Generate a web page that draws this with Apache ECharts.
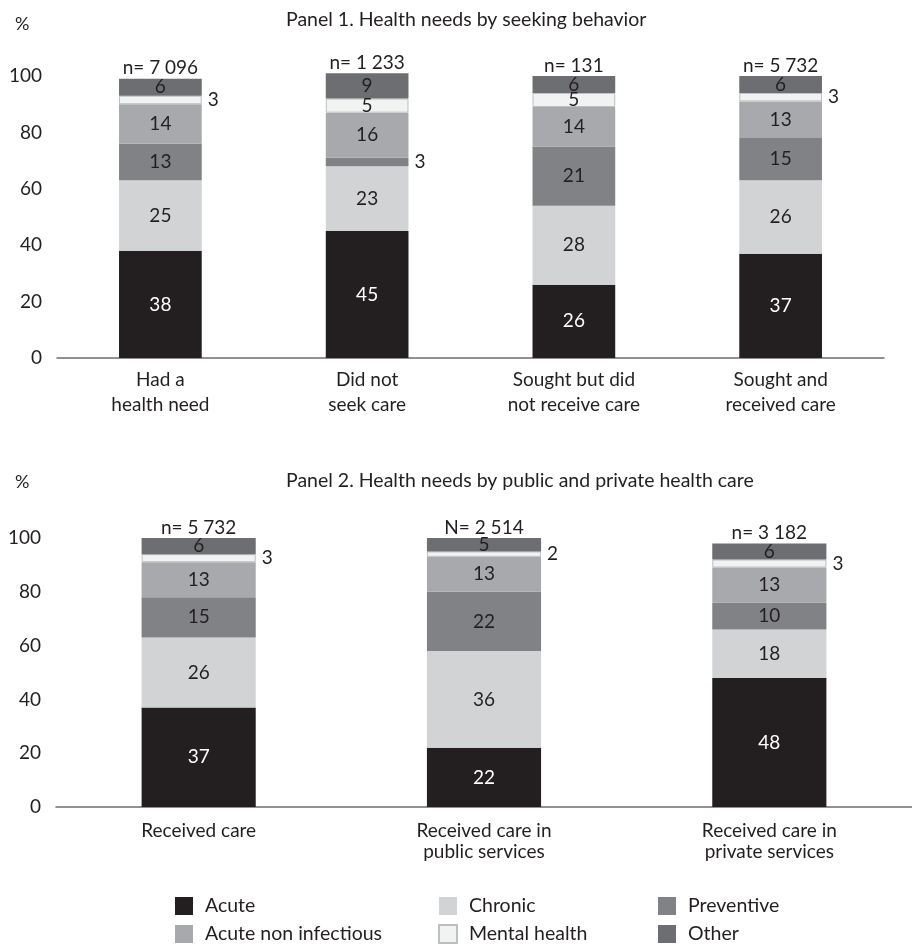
<!DOCTYPE html>
<html><head><meta charset="utf-8">
<script src="https://cdn.jsdelivr.net/npm/echarts@6/dist/echarts.min.js"></script>
<style>html,body{margin:0;padding:0;background:#fff}#c{width:912px;height:946px}</style>
</head><body><div id="c"></div>
<script>
// ---- Data ----
const seriesNames = ['Acute','Chronic','Preventive','Acute non infectious','Mental health','Other'];
const yTicks = [0,20,40,60,80,100];

const cats1 = ['Had a\nhealth need','Did not\nseek care','Sought but did\nnot receive care','Sought and\nreceived care'];
const n1 = ['n= 7 096','n= 1 233','n= 131','n= 5 732'];
const acute1 = [38,45,26,37];
const chronic1 = [25,23,28,26];
const preventive1 = [13,3,21,15];
const acuteNonInf1 = [14,16,14,13];
const mental1 = [3,5,5,3];
const other1 = [6,9,6,6];

const cats2 = ['Received care','Received care in\npublic services','Received care in\nprivate services'];
const n2 = ['n= 5 732','N= 2 514','n= 3 182'];
const acute2 = [37,22,48];
const chronic2 = [26,36,18];
const preventive2 = [15,22,10];
const acuteNonInf2 = [13,13,13];
const mental2 = [3,2,3];
const other2 = [6,5,6];

const title1 = 'Panel 1. Health needs by seeking behavior';
const title2 = 'Panel 2. Health needs by public and private health care';

// ---- Styles ----
const FONT = 'Lato';
const TXT = '#231f20';
const colors = ['#231f20','#d1d3d4','#808285','#a7a9ac','#f1f2f2','#6d6e71'];
const FS = 19;

function buildSeries(idx, arrays, nArr, stack) {
  const out = arrays.map((arr, k) => ({
    name: seriesNames[k],
    type: 'bar',
    stack: stack,
    clip: false,
    xAxisIndex: idx, yAxisIndex: idx,
    barWidth: '40%',
    itemStyle: k === 4 ? {color: colors[k], borderColor: '#bcbec0', borderWidth: 1} : {color: colors[k]},
    label: {show: true, position: 'inside', fontFamily: FONT, fontSize: FS, color: k === 0 ? '#ffffff' : TXT},
    data: arr.map(v => v <= 3 ? {value: v, label: {position: 'right', distance: 6, color: TXT}} : v)
  }));
  out.push({
    name: 'n' + idx, type: 'bar', stack: stack, clip: false,
    xAxisIndex: idx, yAxisIndex: idx, barWidth: '40%',
    itemStyle: {color: 'transparent'},
    label: {show: true, position: 'top', distance: 1, fontFamily: FONT, fontSize: FS, color: TXT,
      formatter: p => nArr[p.dataIndex]},
    data: nArr.map(() => 0)
  });
  return out;
}

const chart = echarts.init(document.getElementById('c'), null, {renderer: 'canvas'});
const xAxisCommon = {
  type: 'category',
  axisLine: {lineStyle: {color: '#6d6e71', width: 1.5}},
  axisTick: {show: false}
};
const yAxisCommon = {
  type: 'value', min: 0, max: 100, interval: 20,
  splitLine: {show: false}, axisLine: {show: false}, axisTick: {show: false},
  axisLabel: {fontFamily: FONT, fontSize: FS, color: TXT, margin: 15, padding: [0,0,10,0]}
};
const legendCommon = {
  orient: 'vertical', top: 896, height: 80, itemWidth: 18, itemHeight: 18, itemGap: 8,
  padding: 0, icon: 'rect', selectedMode: false,
  textStyle: {fontFamily: FONT, fontSize: 19.5, lineHeight: 20, color: TXT, padding: [0,0,0,7]}
};
const titleStyle = {fontFamily: FONT, fontSize: 19.5, fontWeight: 'normal', color: TXT};

chart.setOption({
  animation: false,
  textStyle: {fontFamily: FONT},
  title: [
    {text: title1, left: 281, top: 5, textStyle: titleStyle},
    {text: '%', left: 10, top: 10, textStyle: Object.assign({}, titleStyle, {fontSize: 18})},
    {text: title2, left: 281, top: 466, textStyle: titleStyle},
    {text: '%', left: 10, top: 468, textStyle: Object.assign({}, titleStyle, {fontSize: 18})}
  ],
  grid: [
    {left: 57, top: 76, width: 827, height: 282},
    {left: 56, top: 538, width: 870, height: 269}
  ],
  xAxis: [
    Object.assign({}, xAxisCommon, {gridIndex: 0, data: cats1,
      axisLabel: {fontFamily: FONT, fontSize: FS, color: TXT, lineHeight: 25, margin: 9, interval: 0}}),
    Object.assign({}, xAxisCommon, {gridIndex: 1, data: cats2,
      axisLabel: {fontFamily: FONT, fontSize: FS, color: TXT, lineHeight: 21, margin: 13, interval: 0}})
  ],
  yAxis: [
    Object.assign({}, yAxisCommon, {gridIndex: 0}),
    Object.assign({}, yAxisCommon, {gridIndex: 1})
  ],
  legend: [
    Object.assign({}, legendCommon, {left: 175, data: ['Acute','Acute non infectious']}),
    Object.assign({}, legendCommon, {left: 438, data: ['Chronic','Mental health']}),
    Object.assign({}, legendCommon, {left: 658, data: ['Preventive','Other']})
  ],
  series: [
    ...buildSeries(0, [acute1, chronic1, preventive1, acuteNonInf1, mental1, other1], n1, 'p1'),
    ...buildSeries(1, [acute2, chronic2, preventive2, acuteNonInf2, mental2, other2], n2, 'p2')
  ]
});
</script></body></html>
